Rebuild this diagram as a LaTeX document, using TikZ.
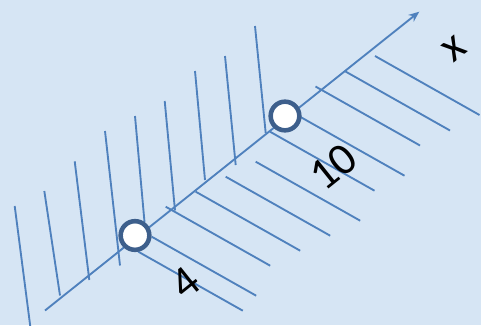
\documentclass[tikz,border=0pt]{standalone}
\usepackage{fontspec}
\setmainfont{Carlito}
\usetikzlibrary{arrows.meta}
\definecolor{bgblue}{RGB}{214,229,244}
\definecolor{hatchblue}{RGB}{79,129,189}
\definecolor{ringblue}{RGB}{61,95,140}
\tikzset{
  hatch/.style={draw=hatchblue, line width=1.4pt},
  axisline/.style={draw=hatchblue, line width=1.4pt, -{Stealth[length=8pt,width=6.5pt]}},
  openpt/.style={circle, draw=ringblue, fill=white, line width=3.4pt, minimum size=21.5pt, inner sep=0pt},
  lbl/.style={font=\fontsize{34}{40}\selectfont, text=black, inner sep=0pt, rotate=38.7}
}
\begin{document}
\begin{tikzpicture}[x=0.75pt,y=-0.75pt]
\useasboundingbox (0,0) rectangle (481,325);
\fill[bgblue] (0,0) rectangle (481,325);
% left hatch (near-vertical)
\foreach \ax/\ay/\bx/\by in {14.7/206/30.5/328, 44.3/191/60/295.5, 74.7/161.3/89.3/280,
  105/131/120/265.5, 135/116/144.5/222, 164.7/101/175/210.5, 195/71/205/180,
  225/56/235.7/165, 255/26/265.7/133}
  \draw[hatch] (\ax,\ay) -- (\bx,\by);
% right hatch (down-right)
\foreach \ax/\ay in {138.3/251.7, 151.7/236.7, 165.7/206.7, 195.7/191.7, 225.7/176.7,
  255.7/161.7, 270/131.7, 300/116.7, 315.5/86.5, 345.5/71.5, 375/56}
  \draw[hatch] (\ax,\ay) -- ++(104.5,59);
% axis
\coordinate (s) at (45,310.5);
\coordinate (e) at (419.3,11.7);
\draw[axisline] (s) -- (e);
% open points
\node[openpt] (p4) at (135,235.5) {};
\node[openpt] (p10) at (285,116) {};
% labels
\node[lbl] (l4) at (185,283.3) {4};
\node[lbl] (l10) at (333.3,166.7) {10};
\node[lbl] (lx) at (454,49) {x};
\end{tikzpicture}
\end{document}
